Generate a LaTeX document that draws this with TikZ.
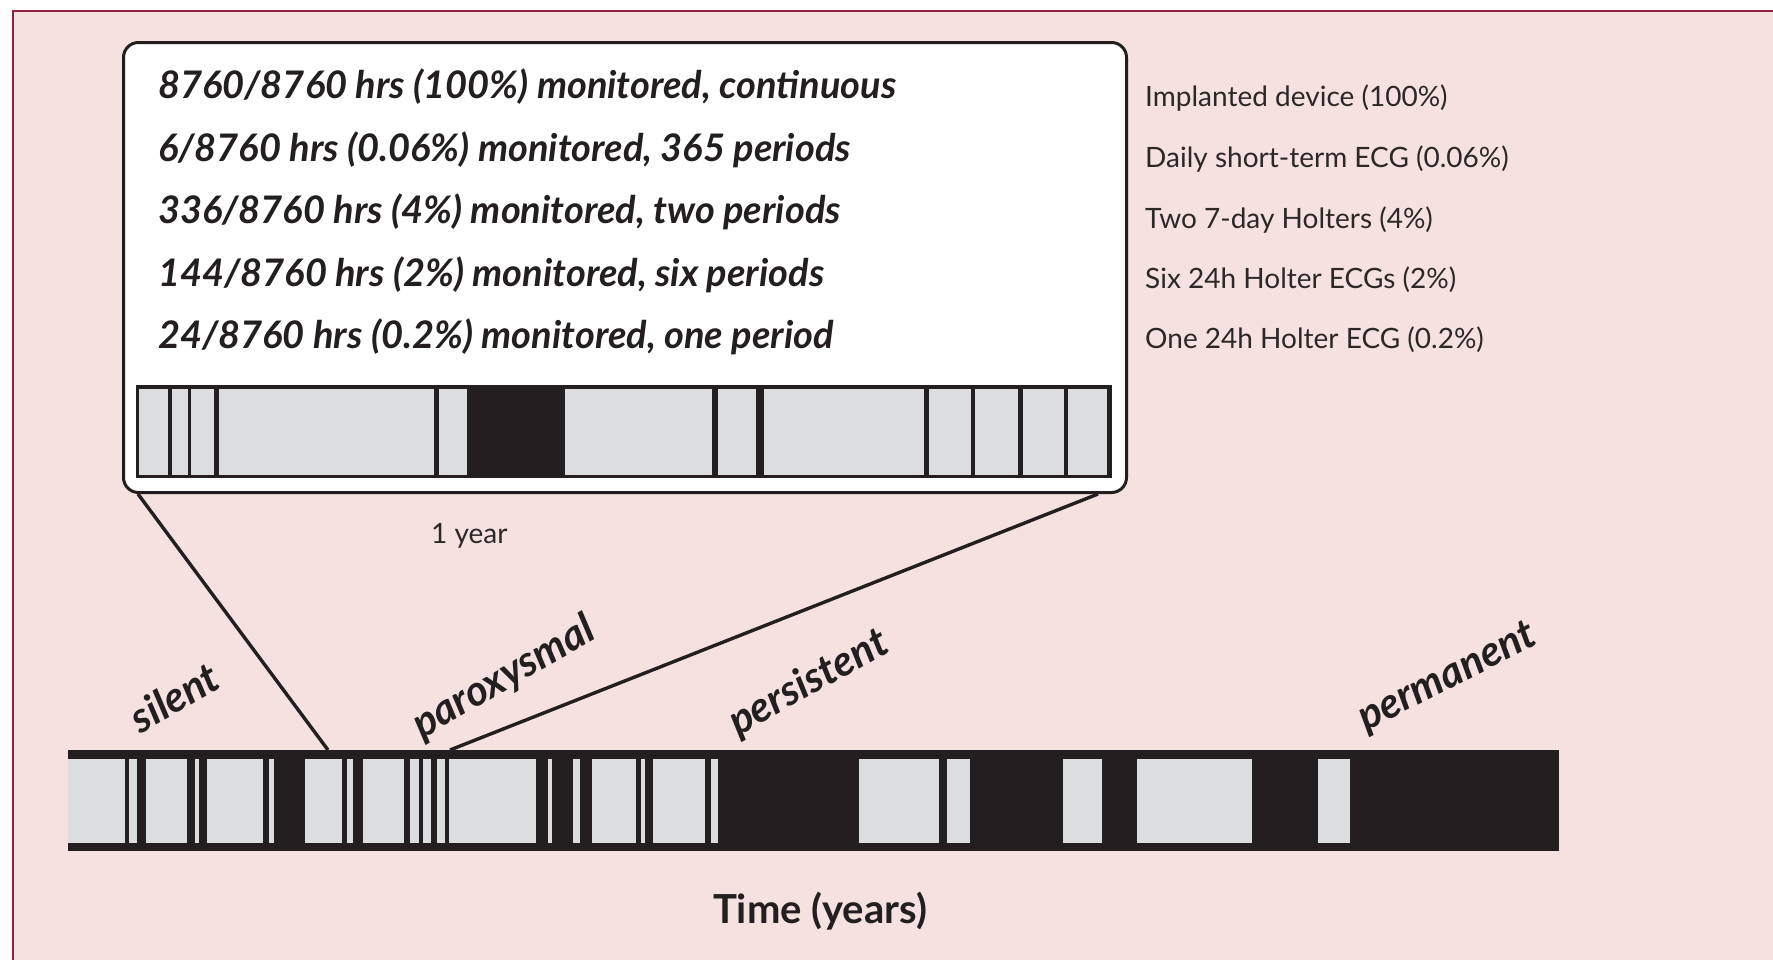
\documentclass[tikz,border=0pt]{standalone}
\usepackage{fontspec}
\setmainfont{Lato}
\definecolor{bgpink}{RGB}{245,225,223}
\definecolor{framecol}{RGB}{140,35,65}
\definecolor{barblack}{RGB}{35,31,32}
\definecolor{bargray}{RGB}{220,221,223}
\definecolor{labelgray}{RGB}{45,40,40}
\begin{document}
\begin{tikzpicture}[x=1pt,y=-1pt,
  seg/.style={fill=bargray},
  insettext/.style={anchor=base west, inner sep=0pt, font=\fontsize{38}{38}\selectfont\bfseries\itshape, text=barblack},
  methodtext/.style={anchor=base west, inner sep=0pt, font=\fontsize{28}{28}\selectfont, text=labelgray},
  stagetext/.style={inner sep=0pt, font=\fontsize{42}{42}\selectfont\bfseries\itshape, text=barblack},
  link/.style={draw=barblack, line width=3.4pt},
  barnode/.style={fill=barblack, inner sep=0pt, anchor=north west}
]
\useasboundingbox (0,0) rectangle (1773,959);
\fill[white] (0,0) rectangle (1773,959);
\begin{scope}
  \clip (0,0) rectangle (1773,959);
  \draw[framecol, line width=2pt, fill=bgpink] (13,11) rectangle (1800,1000);
\end{scope}

% inset box
\node (inset) [draw=barblack, line width=3pt, fill=white, rounded corners=15pt,
  minimum width=1003pt, minimum height=450pt, inner sep=0pt, anchor=north west] at (122,41) {};

% zoomed bar (one year)
\node (zoombar) [barnode, minimum width=976pt, minimum height=93pt] at (136,385) {};
\foreach \a/\b in {139/168,172/188,191/214,219/434,439/467,565/712,718/756,764/924,929/971,975/1018,1023/1064,1068/1107}
  \fill[seg] (\a,389) rectangle (\b,475);

% inset texts
\node[insettext] (t1) at (158,98)  {8760/8760 hrs (100\%) monitored, continuous};
\node[insettext] (t2) at (158,161) {6/8760 hrs (0.06\%) monitored, 365 periods};
\node[insettext] (t3) at (158,223) {336/8760 hrs (4\%) monitored, two periods};
\node[insettext] (t4) at (158,286) {144/8760 hrs (2\%) monitored, six periods};
\node[insettext] (t5) at (158,348) {24/8760 hrs (0.2\%) monitored, one period};

% method labels
\node[methodtext] (m1) at (1145,106) {Implanted device (100\%)};
\node[methodtext] (m2) at (1145,167) {Daily short-term ECG (0.06\%)};
\node[methodtext] (m3) at (1145,228) {Two 7-day Holters (4\%)};
\node[methodtext] (m4) at (1145,288) {Six 24h Holter ECGs (2\%)};
\node[methodtext] (m5) at (1145,348) {One 24h Holter ECG (0.2\%)};

\node[methodtext] (year) at (431,543) {1 year};

% timeline
\node (timeline) [barnode, minimum width=1491pt, minimum height=101pt] at (68,750) {};

% connectors
\draw[link] ([xshift=16pt]inset.south west) -- ([xshift=260pt]timeline.north west);
\draw[link] ([xshift=-30pt]inset.south east) -- ([xshift=382pt]timeline.north west);

\foreach \a/\b in {68/125,129/137,146/187,195/199,207/263,269/274,305/342,347/353,363/404,410/419,423/431,437/445,449/536,548/552,573/580,592/636,641/645,653/705,711/718,859/939,947/970,1063/1102,1137/1252,1318/1350}
  \fill[seg] (\a,759) rectangle (\b,843);

% stage labels
\node[stagetext, rotate=30] (silent) at (174,697) {silent};
\node[stagetext, rotate=30] (parox) at (504,678) {paroxysmal};
\node[stagetext, rotate=29] (persist) at (809,683) {persistent};
\node[stagetext, rotate=27] (perman) at (1448,678) {permanent};

% axis label
\node[anchor=base, inner sep=0pt, font=\fontsize{40}{40}\selectfont\bfseries, text=barblack] (time) at (820,923) {Time (years)};
\end{tikzpicture}
\end{document}
